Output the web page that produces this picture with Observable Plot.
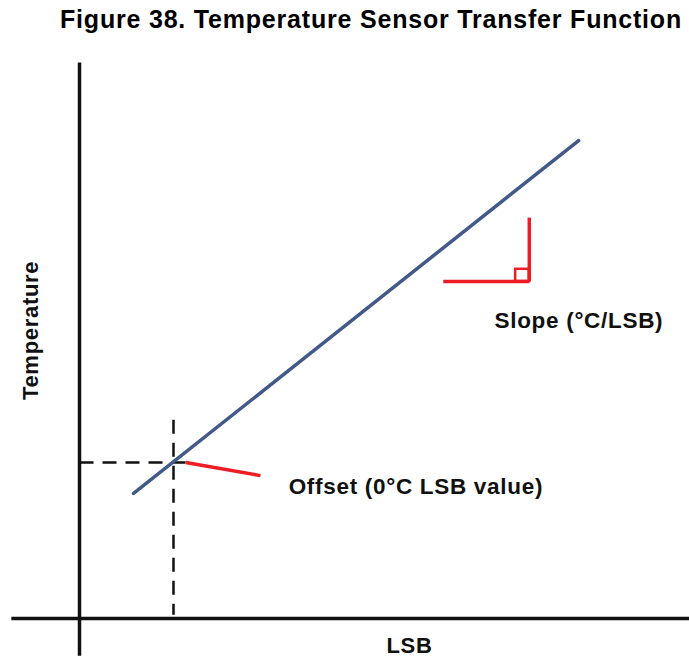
<!DOCTYPE html>
<html>
<head>
<meta charset="utf-8">
<script src="https://cdn.jsdelivr.net/npm/d3@7"></script>
<script src="https://cdn.jsdelivr.net/npm/@observablehq/plot@0.6"></script>
<style>
  html, body { margin: 0; padding: 0; background: #fff; }
  #title { position: relative; width: 689px; height: 48px; font-family: "Liberation Sans", Arial, sans-serif; font-weight: bold; font-size: 25px; letter-spacing: 0.8px; color: #000; }
  #title span { position: absolute; right: 7px; top: 5px; white-space: nowrap; }
</style>
</head>
<body>
<div id="title"><span id="titleText"></span></div>
<div id="chart"></div>
<script>
// Conceptual units (LSB horizontally, temperature vertically)
const title = "Figure 38. Temperature Sensor Transfer Function";
const xLabel = "LSB";
const yLabel = "Temperature";
const slopeLabel = "Slope (°C/LSB)";
const offsetLabel = "Offset (0°C LSB value)";

// Transfer function line end points
const lineLSB = [11.5, 106.2];
const lineTemp = [26.6, 101.7];

// Offset point (0 °C)
const offsetLSB = 20;
const offsetTemp = 33.2;

// Axis extents
const xAxisLSB = [-14.5, 129.8];
const yAxisTemp = [-7.9, 118.3];

// Dashed guide extents
const hGuideLSB = [0, 22.6];
const vGuideTemp = [0.8, 42.3];

// Offset leader (red)
const leaderLSB = [22.6, 38.5];
const leaderTemp = [33.2, 30.4];

// Slope marker (red right-angle)
const slopeRunLSB = [77.4, 95.7];
const slopeRiseTemp = [71.7, 85.3];
const slopeBoxLSB = [92.8, 95.7];
const slopeBoxTemp = [71.7, 74.3];

// Label anchors
const slopeLabelPos = [88.3, 63.4];
const offsetLabelPos = [44.5, 28.1];
const xLabelPos = [70.2, -5.9];
const yLabelPos = [-10.4, 61.3];

const font = "Liberation Sans, Arial, sans-serif";
document.getElementById("titleText").textContent = title;

const links = [
  {x1: xAxisLSB[0], y1: 0, x2: xAxisLSB[1], y2: 0},
  {x1: 0, y1: yAxisTemp[0], x2: 0, y2: yAxisTemp[1]}
];
const dashed = [
  {x1: hGuideLSB[0], y1: offsetTemp, x2: hGuideLSB[1], y2: offsetTemp},
  {x1: offsetLSB, y1: vGuideTemp[1], x2: offsetLSB, y2: vGuideTemp[0]}
];
const red = [
  {x1: leaderLSB[0], y1: leaderTemp[0], x2: leaderLSB[1], y2: leaderTemp[1]},
  {x1: slopeRunLSB[0], y1: slopeRiseTemp[0], x2: slopeRunLSB[1], y2: slopeRiseTemp[0]},
  {x1: slopeRunLSB[1], y1: slopeRiseTemp[0], x2: slopeRunLSB[1], y2: slopeRiseTemp[1]}
];
const transfer = lineLSB.map((x, i) => ({x, y: lineTemp[i]}));
const box = [{x1: slopeBoxLSB[0], x2: slopeBoxLSB[1], y1: slopeBoxTemp[0], y2: slopeBoxTemp[1]}];

const startLabels = [
  {x: slopeLabelPos[0], y: slopeLabelPos[1], text: slopeLabel},
  {x: offsetLabelPos[0], y: offsetLabelPos[1], text: offsetLabel}
];
const midLabels = [{x: xLabelPos[0], y: xLabelPos[1], text: xLabel}];
const rotLabels = [{x: yLabelPos[0], y: yLabelPos[1], text: yLabel}];

const textStyle = {fontWeight: "bold", fontFamily: font, fill: "#111"};

const chart = Plot.plot({
  width: 689,
  height: 610,
  margin: 0,
  x: {domain: [-16.81, 129.79], axis: null},
  y: {domain: [-8.51, 121.28], axis: null},
  marks: [
    Plot.link(dashed, {x1: "x1", y1: "y1", x2: "x2", y2: "y2", stroke: "#111", strokeWidth: 2.5, strokeDasharray: "14,9"}),
    Plot.link(links, {x1: "x1", y1: "y1", x2: "x2", y2: "y2", stroke: "#111", strokeWidth: 3.5}),
    Plot.line(transfer, {x: "x", y: "y", stroke: "#42598a", strokeWidth: 3.5}),
    Plot.link(red, {x1: "x1", y1: "y1", x2: "x2", y2: "y2", stroke: "#ee1c25", strokeWidth: 3.5}),
    Plot.rect(box, {x1: "x1", x2: "x2", y1: "y1", y2: "y2", fill: "none", stroke: "#ee1c25", strokeWidth: 2.5}),
    Plot.text(startLabels, {x: "x", y: "y", text: "text", textAnchor: "start", fontSize: 22.5, ...textStyle}),
    Plot.text(midLabels, {x: "x", y: "y", text: "text", textAnchor: "middle", fontSize: 22, ...textStyle}),
    Plot.text(rotLabels, {x: "x", y: "y", text: "text", rotate: -90, fontSize: 22, ...textStyle})
  ]
});
chart.querySelectorAll("text").forEach(t => t.style.letterSpacing = "0.7px");
document.getElementById("chart").appendChild(chart);
</script>
</body>
</html>
